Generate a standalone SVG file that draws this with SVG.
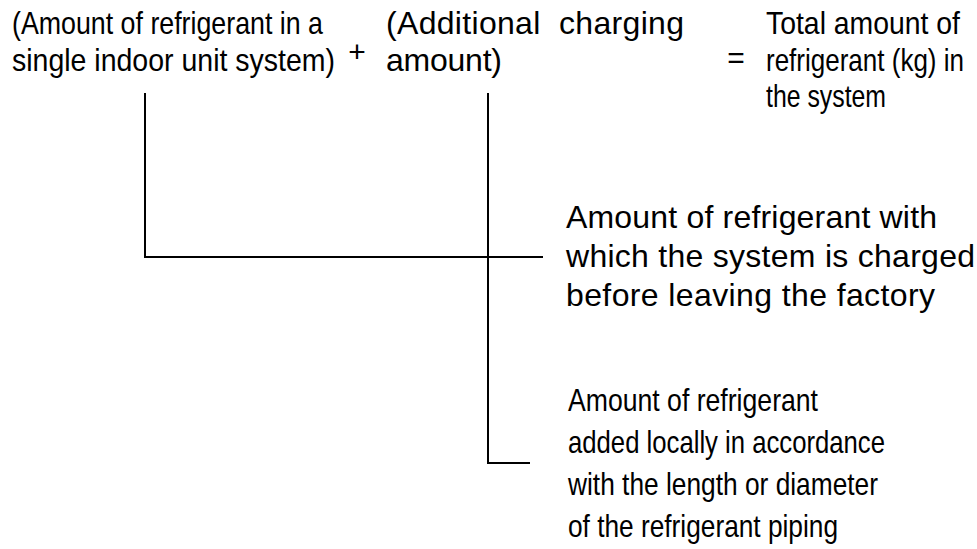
<svg xmlns="http://www.w3.org/2000/svg" width="977" height="549" viewBox="0 0 977 549">
<style>
  .c { font-family: "Liberation Sans", Arial, sans-serif; font-size: 27px; fill: #000; }
  .w { font-family: "Liberation Sans", Arial, sans-serif; font-size: 32px; fill: #000; }
  .op { font-family: "Liberation Sans", Arial, sans-serif; font-size: 30px; fill: #000; }
  .ln { stroke: #000; stroke-width: 2; fill: none; }
</style>
<rect width="977" height="549" fill="#fff"/>
<g id="term1">
  <text class="c" transform="translate(12,34) scale(1,1.15)" textLength="311" lengthAdjust="spacingAndGlyphs">(Amount of refrigerant in a</text>
  <text class="c" transform="translate(12,71) scale(1,1.15)" textLength="323" lengthAdjust="spacingAndGlyphs">single indoor unit system)</text>
</g>
<g id="plus"><text class="op" x="357" y="62" text-anchor="middle">+</text></g>
<g id="term2">
  <text class="w" x="386" y="34" textLength="298" xml:space="preserve">(Additional  charging</text>
  <text class="w" x="386" y="71" textLength="116">amount)</text>
</g>
<g id="equals"><text class="op" x="736" y="68" text-anchor="middle">=</text></g>
<g id="total">
  <text class="c" transform="translate(766,34) scale(1,1.15)" textLength="194" lengthAdjust="spacingAndGlyphs">Total amount of</text>
  <text class="c" transform="translate(766,71) scale(1,1.15)" textLength="198" lengthAdjust="spacingAndGlyphs">refrigerant (kg) in</text>
  <text class="c" transform="translate(766,107) scale(1,1.15)" textLength="120" lengthAdjust="spacingAndGlyphs">the system</text>
</g>
<g id="factory">
  <text class="w" x="566" y="228" textLength="371">Amount of refrigerant with</text>
  <text class="w" x="566" y="267" textLength="409">which the system is charged</text>
  <text class="w" x="566" y="306" textLength="369">before leaving the factory</text>
</g>
<g id="local">
  <text class="c" transform="translate(568,411) scale(1,1.15)" textLength="250" lengthAdjust="spacingAndGlyphs">Amount of refrigerant</text>
  <text class="c" transform="translate(568,453) scale(1,1.15)" textLength="317" lengthAdjust="spacingAndGlyphs">added locally in accordance</text>
  <text class="c" transform="translate(568,495) scale(1,1.15)" textLength="310" lengthAdjust="spacingAndGlyphs">with the length or diameter</text>
  <text class="c" transform="translate(568,537) scale(1,1.15)" textLength="270" lengthAdjust="spacingAndGlyphs">of the refrigerant piping</text>
</g>
<g id="connectors">
  <polyline class="ln" points="145,93 145,257 543,257"/>
  <polyline class="ln" points="488,93 488,463 530,463"/>
</g>
</svg>
